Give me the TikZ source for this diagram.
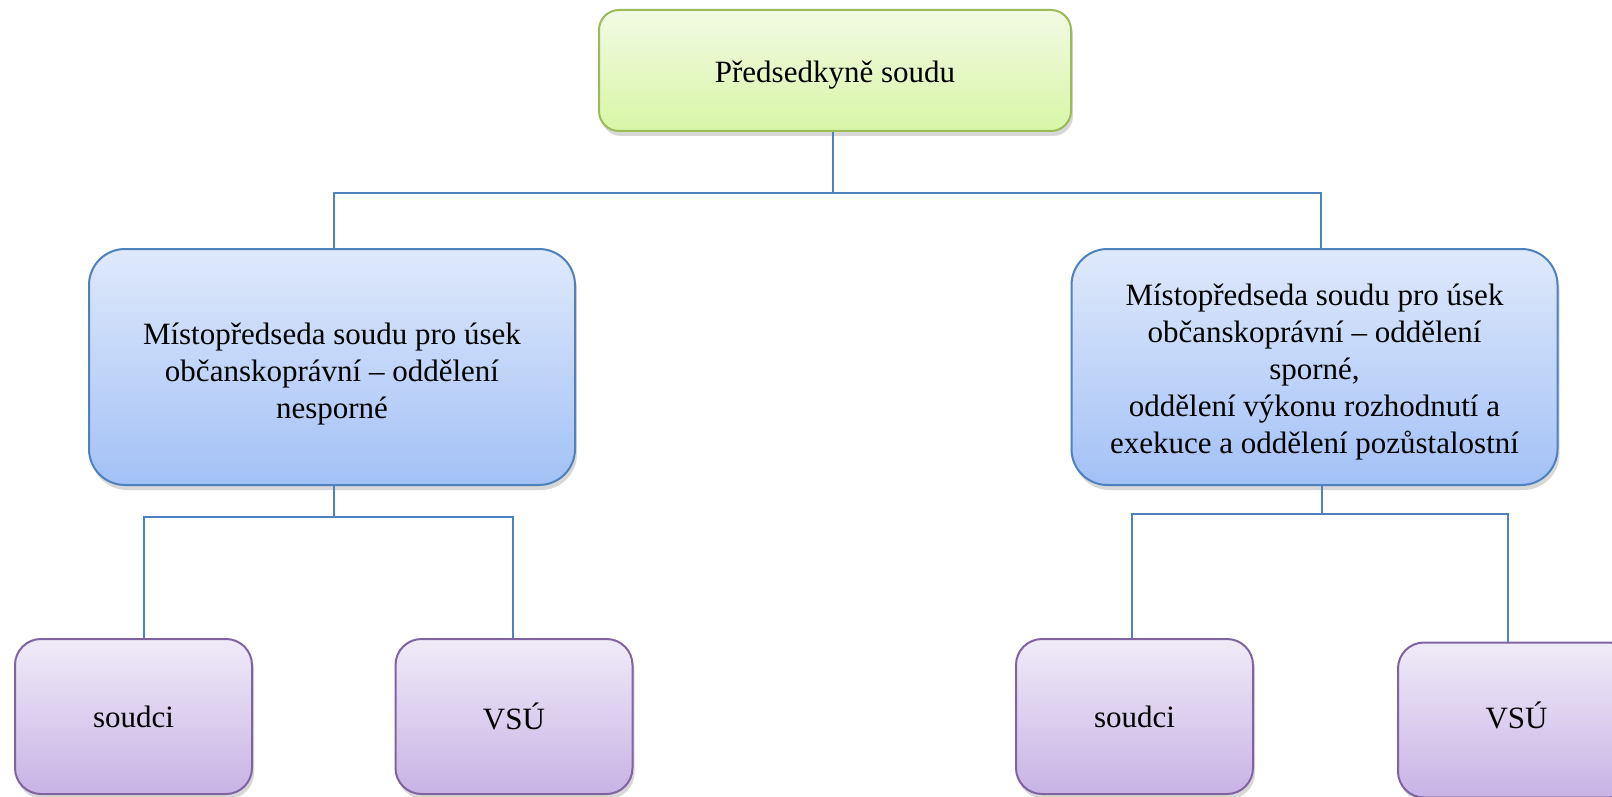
\documentclass[tikz,border=0pt]{standalone}
\usepackage{fontspec}
\setmainfont{Liberation Serif}
\usetikzlibrary{shadows}
\definecolor{lineblue}{HTML}{4F81BD}
\definecolor{greenborder}{HTML}{9BBB59}
\definecolor{greentop}{HTML}{F2FAE4}
\definecolor{greenbot}{HTML}{D8F6A6}
\definecolor{bluetop}{HTML}{DFE9FB}
\definecolor{bluebot}{HTML}{A3C1F6}
\definecolor{purpleborder}{HTML}{8064A2}
\definecolor{purpletop}{HTML}{F0EBF8}
\definecolor{purplebot}{HTML}{C8B3E5}
\tikzset{
  boxbase/.style={draw, line width=1pt, inner sep=0pt,
    drop shadow={shadow xshift=1pt, shadow yshift=-2.5pt, opacity=0.3}},
  every label/.style={align=center, inner sep=0pt, font=\fontsize{15.5}{18.5}\selectfont},
  topbox/.style={boxbase, draw=greenborder, shading=axis, top color=greentop, bottom color=greenbot,
    rounded corners=10pt, minimum width=236pt, minimum height=60.5pt},
  midbox/.style={boxbase, draw=lineblue, shading=axis, top color=bluetop, bottom color=bluebot,
    rounded corners=18pt, minimum width=243pt, minimum height=118pt},
  leafbox/.style={boxbase, draw=purpleborder, shading=axis, top color=purpletop, bottom color=purplebot,
    rounded corners=13pt, minimum width=118.5pt, minimum height=77.5pt},
  conn/.style={draw=lineblue, line width=1.3pt}
}
\begin{document}
\begin{tikzpicture}[x=0.5pt, y=-0.5pt]
\clip (0,0) rectangle (1612,797);
\fill[white] (0,0) rectangle (1612,797);

\node[topbox, label={[yshift=-2.5pt]center:Předsedkyně soudu}] (top) at (835,70.5) {};
\node[midbox, label={[yshift=-3.5pt]center:Místopředseda soudu pro úsek\\občanskoprávní – oddělení\\nesporné}] (midL) at (332,367) {};
\node[midbox, label={[yshift=-2.6pt]center:Místopředseda soudu pro úsek\\občanskoprávní – oddělení\\sporné,\\oddělení výkonu rozhodnutí a\\exekuce a oddělení pozůstalostní}] (midR) at (1314.5,367) {};
\node[leafbox, label={center:soudci}] (sL) at (133.5,716.5) {};
\node[leafbox, label={center:VSÚ}] (vL) at (514,716.5) {};
\node[leafbox, label={center:soudci}] (sR) at (1134.5,716.5) {};
\node[leafbox, label={[yshift=2.5pt]center:VSÚ}] (vR) at (1516.5,720) {};

\coordinate (busTop) at (833,193);
\coordinate (xL) at (334,193);
\coordinate (xR) at (1321,193);
\coordinate (busL) at (334,517);
\coordinate (cL1) at (144,517);
\coordinate (cL2) at (513,517);
\coordinate (busR) at (1322,514);
\coordinate (cR1) at (1132,514);
\coordinate (cR2) at (1508,514);

\draw[conn] (busTop |- top.south) -- (busTop);
\draw[conn] (xL |- midL.north) -- (xL) -- (xR) -- (xR |- midR.north);

\draw[conn] (busL |- midL.south) -- (busL);
\draw[conn] (cL1 |- sL.north) -- (cL1) -- (cL2) -- (cL2 |- vL.north);

\draw[conn] (busR |- midR.south) -- (busR);
\draw[conn] (cR1 |- sR.north) -- (cR1) -- (cR2) -- (cR2 |- vR.north);
\end{tikzpicture}
\end{document}
